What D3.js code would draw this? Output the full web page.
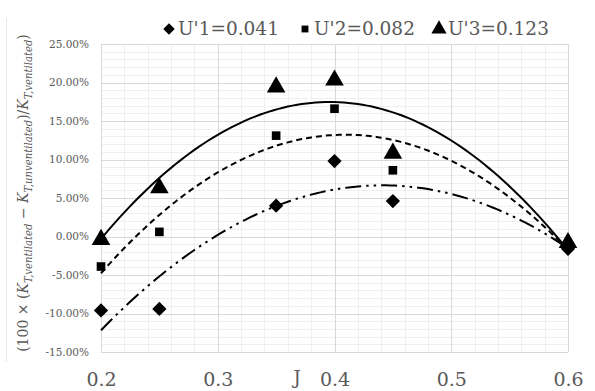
<!DOCTYPE html>
<html>
<head>
<meta charset="utf-8">
<script src="https://cdn.jsdelivr.net/npm/d3@7"></script>
<style>
  body { margin: 0; background: #fff; }
  svg { display: block; }
</style>
</head>
<body>
<div id="chart"></div>
<script>
// values (percent)
const jValues = [0.2, 0.25, 0.35, 0.4, 0.45, 0.6]
const u1 = [-9.6, -9.4, 4.0, 9.8, 4.6, -1.6]
const u2 = [-3.9, 0.6, 13.1, 16.6, 8.6, -1.2]
const u3 = [-0.4, 6.3, 19.4, 20.3, 10.8, -0.8]
const seriesNames = ["U'1=0.041", "U'2=0.082", "U'3=0.123"]
const xTicks = [0.2, 0.3, 0.4, 0.5, 0.6]
const yTicks = [-15, -10, -5, 0, 5, 10, 15, 20, 25]

const W = 595, H = 391
const margin = { top: 44, right: 27, bottom: 39, left: 101 }
const FONT = "DejaVu Serif"

const svg = d3.select("#chart").append("svg")
    .attr("width", W)
    .attr("height", H)
    .attr("font-family", FONT)

const x = d3.scaleLinear().domain([0.2, 0.6]).range([margin.left, W - margin.right])
const y = d3.scaleLinear().domain([-15, 25]).range([H - margin.bottom, margin.top])

// faint outer chart border on the left
svg.append("line")
    .attr("x1", 6.5).attr("x2", 6.5).attr("y1", 18).attr("y2", 362)
    .attr("stroke", "#e6e6e6").attr("stroke-width", 1)

// minor grid
const grid = svg.append("g")
d3.range(-15, 25.01, 1).forEach(v => {
    if (v % 5 === 0) return
    grid.append("line")
        .attr("x1", x.range()[0]).attr("x2", x.range()[1])
        .attr("y1", Math.round(y(v)) + 0.5).attr("y2", Math.round(y(v)) + 0.5)
        .attr("stroke", "#efefef")
})
d3.range(0.2, 0.6001, 0.02).forEach(v => {
    if (Math.abs(v * 10 - Math.round(v * 10)) < 1e-6) return
    grid.append("line")
        .attr("x1", Math.round(x(v)) + 0.5).attr("x2", Math.round(x(v)) + 0.5)
        .attr("y1", y.range()[0]).attr("y2", y.range()[1])
        .attr("stroke", "#efefef")
})
// major grid
yTicks.forEach(v => {
    grid.append("line")
        .attr("x1", x.range()[0]).attr("x2", x.range()[1])
        .attr("y1", Math.round(y(v)) + 0.5).attr("y2", Math.round(y(v)) + 0.5)
        .attr("stroke", "#d9d9d9")
})
xTicks.forEach(v => {
    grid.append("line")
        .attr("x1", Math.round(x(v)) + 0.5).attr("x2", Math.round(x(v)) + 0.5)
        .attr("y1", y.range()[0]).attr("y2", y.range()[1])
        .attr("stroke", "#d9d9d9")
})

// axes (labels only, Excel style)
const yAxis = svg.append("g")
    .attr("transform", `translate(${margin.left - 12},0)`)
    .call(d3.axisLeft(y).tickValues(yTicks).tickSize(0).tickFormat(d => d.toFixed(2) + "%"))
yAxis.attr("font-family", FONT).attr("font-size", 10.5)
yAxis.select(".domain").remove()
yAxis.selectAll("text").attr("fill", "#595959").attr("x", 0)

const xAxis = svg.append("g")
    .attr("transform", `translate(0,${H - margin.bottom})`)
    .call(d3.axisBottom(x).tickValues(xTicks).tickSize(0).tickFormat(d3.format(".1f")))
xAxis.attr("font-family", FONT).attr("font-size", 19)
xAxis.select(".domain").remove()
xAxis.selectAll("text")
    .attr("y", 34)
    .attr("dy", 0)
    .attr("fill", "#595959")

svg.append("text")
    .attr("x", 297).attr("y", 384)
    .attr("text-anchor", "middle")
    .attr("fill", "#595959")
    .attr("font-size", 18)
    .text("J")

// y axis title
const yTitle = svg.append("text")
    .attr("transform", "translate(28,193) rotate(-90)")
    .attr("text-anchor", "middle")
    .attr("fill", "#595959")
    .attr("font-size", 14)
const parts = [
    ["(100 × (", false, false],
    ["K", true, false], ["T,ventilated", true, true],
    [" − ", false, false],
    ["K", true, false], ["T,unventilated", true, true],
    [")/", false, false],
    ["K", true, false], ["T,ventilated", true, true],
    [")", false, false]
]
let sub = false
parts.forEach(([t, it, s]) => {
    const ts = yTitle.append("tspan").text(t)
    if (it) ts.attr("font-style", "italic")
    if (s) ts.attr("dy", 4).attr("font-size", "0.72em")
    else if (sub) ts.attr("dy", -4)
    sub = s
})
// fit the title to the length it has in the reference
const titleLen = yTitle.node().getComputedTextLength()
yTitle.attr("font-size", 14 * 318 / titleLen)

// least squares quadratic trendline (like Excel's polynomial order 2)
function quadFit(xs, ys) {
    let s = [0, 0, 0, 0, 0], t = [0, 0, 0]
    xs.forEach((xv, i) => {
        for (let k = 0; k < 5; k++) s[k] += Math.pow(xv, k)
        for (let k = 0; k < 3; k++) t[k] += Math.pow(xv, k) * ys[i]
    })
    const A = [[s[0], s[1], s[2], t[0]], [s[1], s[2], s[3], t[1]], [s[2], s[3], s[4], t[2]]]
    for (let i = 0; i < 3; i++) {
        for (let j = i + 1; j < 3; j++) {
            const f = A[j][i] / A[i][i]
            for (let k = i; k < 4; k++) A[j][k] -= f * A[i][k]
        }
    }
    const c = [0, 0, 0]
    for (let i = 2; i >= 0; i--) {
        let v = A[i][3]
        for (let k = i + 1; k < 3; k++) v -= A[i][k] * c[k]
        c[i] = v / A[i][i]
    }
    return xv => c[0] + c[1] * xv + c[2] * xv * xv
}

const series = [
    { name: seriesNames[0], values: u1, dash: "16,5,2.5,5,2.5,5", symbol: d3.symbolDiamond2, size: 130 },
    { name: seriesNames[1], values: u2, dash: "6,4", symbol: d3.symbolSquare2, size: 95 },
    { name: seriesNames[2], values: u3, dash: null, symbol: d3.symbolTriangle, size: 150 }
]

const line = d3.line().x(d => x(d[0])).y(d => y(d[1]))
const xs = d3.range(0.2, 0.6001, 0.004)
series.forEach(s => {
    const f = quadFit(jValues, s.values)
    svg.append("path")
        .attr("d", line(xs.map(v => [v, f(v)])))
        .attr("fill", "none")
        .attr("stroke", "#000")
        .attr("stroke-width", 2)
        .attr("stroke-dasharray", s.dash)
})

series.forEach(s => {
    svg.append("g").selectAll("path")
        .data(s.values)
        .enter()
        .append("path")
        .attr("transform", (d, i) => `translate(${x(jValues[i])},${y(d)})`)
        .attr("d", d3.symbol().type(s.symbol).size(s.size))
        .attr("fill", "#000")
})

// legend
const legendX = [169, 305, 439]
const legendSizes = [85, 60, 100]
series.forEach((s, i) => {
    svg.append("path")
        .attr("transform", `translate(${legendX[i]},29)`)
        .attr("d", d3.symbol().type(s.symbol).size(legendSizes[i]))
        .attr("fill", "#000")
    svg.append("text")
        .attr("x", legendX[i] + 9).attr("y", 35)
        .attr("fill", "#595959")
        .attr("font-size", 18.5)
        .text(s.name)
})
</script>
</body>
</html>
